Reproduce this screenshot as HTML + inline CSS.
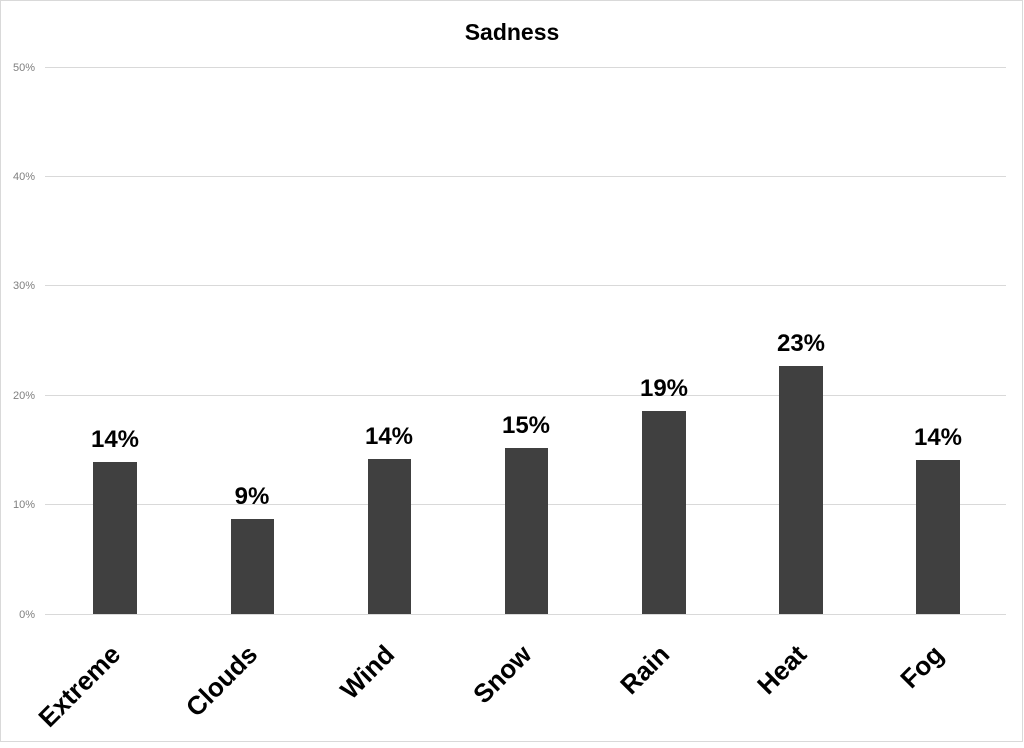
<!DOCTYPE html>
<html><head><style>html,body{margin:0;padding:0;background:#fff}</style></head>
<body>
<svg width="1024" height="743" xmlns="http://www.w3.org/2000/svg" font-family="Liberation Sans, sans-serif">
<rect x="0.5" y="0.5" width="1022" height="741" fill="#fff" stroke="#d9d9d9"/>
<text x="512" y="40" text-anchor="middle" font-size="23" font-weight="bold" fill="#000">Sadness</text>
<g stroke="#d9d9d9" stroke-width="1">
<line x1="45" x2="1006" y1="67.5" y2="67.5"/>
<line x1="45" x2="1006" y1="176.5" y2="176.5"/>
<line x1="45" x2="1006" y1="285.5" y2="285.5"/>
<line x1="45" x2="1006" y1="395.5" y2="395.5"/>
<line x1="45" x2="1006" y1="504.5" y2="504.5"/>
<line x1="45" x2="1006" y1="614.5" y2="614.5"/>
</g>
<g font-size="11" fill="#7f7f7f" text-anchor="end">
<text x="35" y="71">50%</text><text x="35" y="180">40%</text><text x="35" y="289">30%</text>
<text x="35" y="399">20%</text><text x="35" y="508">10%</text><text x="35" y="618">0%</text>
</g>
<g fill="#404040">
<rect x="93" y="462" width="44" height="152"/>
<rect x="231" y="519" width="43" height="95"/>
<rect x="368" y="459" width="43" height="155"/>
<rect x="505" y="448" width="43" height="166"/>
<rect x="642" y="411" width="44" height="203"/>
<rect x="779" y="366" width="44" height="248"/>
<rect x="916" y="460" width="44" height="154"/>
</g>
<g font-size="24" font-weight="bold" text-anchor="middle" fill="#000">
<text x="115" y="447">14%</text><text x="252" y="504">9%</text><text x="389" y="444">14%</text>
<text x="526" y="433">15%</text><text x="664" y="396">19%</text><text x="801" y="351">23%</text>
<text x="938" y="445">14%</text>
</g>
<g font-size="26" font-weight="bold" text-anchor="end" fill="#000">
<text transform="translate(122,656) rotate(-45)">Extreme</text>
<text transform="translate(259,656) rotate(-45)">Clouds</text>
<text transform="translate(396,656) rotate(-45)">Wind</text>
<text transform="translate(533,656) rotate(-45)">Snow</text>
<text transform="translate(671,656) rotate(-45)">Rain</text>
<text transform="translate(808,656) rotate(-45)">Heat</text>
<text transform="translate(945,656) rotate(-45)">Fog</text>
</g>
</svg>
</body></html>
